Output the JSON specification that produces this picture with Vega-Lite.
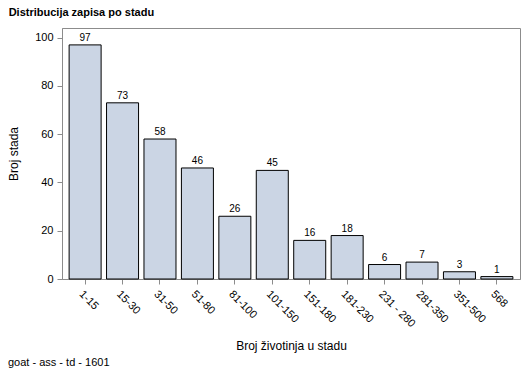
{
  "$schema": "https://vega.github.io/schema/vega-lite/v6.json",
  "autosize": "none",
  "width": 458,
  "height": 251,
  "padding": {"left": 62, "top": 28, "right": 9, "bottom": 99},
  "background": "white",
  "config": {
    "font": "Liberation Sans",
    "view": {"stroke": "#8c8c8c", "strokeWidth": 1},
    "axis": {"grid": false, "domainColor": "#8c8c8c", "tickColor": "#8c8c8c", "labelColor": "#000", "titleColor": "#000", "labelFont": "Liberation Sans", "titleFont": "Liberation Sans", "labelFontSize": 11, "titleFontSize": 12, "titleFontWeight": "normal"}
  },
  "title": {"text": "Distribucija zapisa po stadu", "anchor": "start", "frame": "bounds", "fontSize": 11, "fontWeight": "bold", "font": "Liberation Sans", "color": "#000", "offset": 10, "dx": 1},
  "data": {"values": [
    {"range": "1-15", "count": 97},
    {"range": "15-30", "count": 73},
    {"range": "31-50", "count": 58},
    {"range": "51-80", "count": 46},
    {"range": "81-100", "count": 26},
    {"range": "101-150", "count": 45},
    {"range": "151-180", "count": 16},
    {"range": "181-230", "count": 18},
    {"range": "231 - 280", "count": 6},
    {"range": "281-350", "count": 7},
    {"range": "351-500", "count": 3},
    {"range": "568", "count": 1}
  ]},
  "layer": [
    {
      "mark": {"type": "bar", "fill": "#cbd5e4", "stroke": "#000", "strokeWidth": 1},
      "encoding": {
        "x": {"field": "range", "type": "nominal", "sort": null,
          "scale": {"paddingInner": 0.145, "paddingOuter": 0.19},
          "axis": {"title": "Broj životinja u stadu", "labelAngle": 45, "labelAlign": "left", "labelBaseline": "top", "tickSize": 5, "labelPadding": 4, "titlePadding": 12}},
        "y": {"field": "count", "type": "quantitative",
          "scale": {"domain": [0, 104], "nice": false},
          "axis": {"title": "Broj stada", "values": [0, 20, 40, 60, 80, 100], "tickSize": 5, "labelPadding": 4, "titlePadding": 14}}
      }
    },
    {
      "mark": {"type": "text", "baseline": "bottom", "dy": -2, "fontSize": 10, "color": "#000"},
      "encoding": {
        "x": {"field": "range", "type": "nominal", "sort": null},
        "y": {"field": "count", "type": "quantitative"},
        "text": {"field": "count", "type": "quantitative"}
      }
    },
    {
      "data": {"values": [{"note": "goat - ass - td - 1601"}]},
      "mark": {"type": "text", "align": "left", "baseline": "middle", "fontSize": 11, "color": "#000", "x": -54, "y": 335},
      "encoding": {"text": {"field": "note", "type": "nominal"}}
    }
  ]
}
